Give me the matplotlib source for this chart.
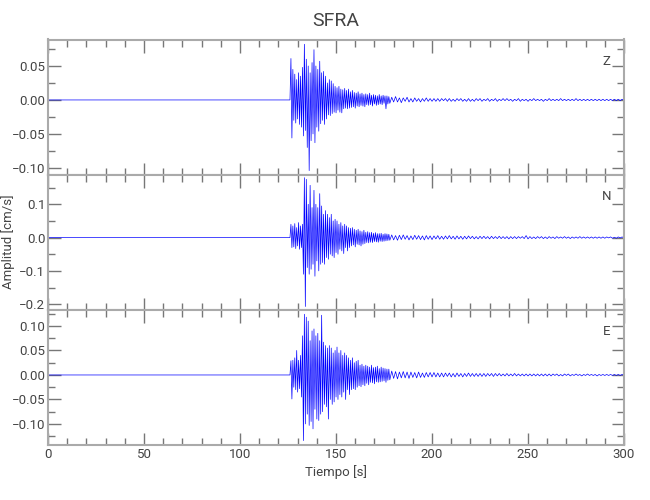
import numpy as np
import matplotlib.pyplot as plt
from matplotlib.ticker import MultipleLocator

plt.rcParams['font.family'] = ['Roboto', 'DejaVu Sans']

# ---------- DATA ----------
station = 'SFRA'
components = ['Z', 'N', 'E']

# quiet part before the arrival (s)
t_pre = [0.0, 126.0]
pre_z = [0.0, 0.0]
pre_n = [0.0, 0.0]
pre_e = [0.0, 0.0]

# strong motion, successive peaks/troughs every 0.5 s starting at 126 s
t_strong0, dt_strong = 126.0, 0.5
strong_z = [0.0, 0.061, -0.056, 0.045, -0.030, 0.038, -0.034, 0.030, -0.028, 0.040,
            -0.036, 0.035, -0.040, 0.048, -0.053, 0.082, -0.045, 0.060, -0.070, 0.050,
            -0.104, 0.040, -0.060, 0.055, -0.050, 0.074, -0.063, 0.050, -0.040, 0.045,
            -0.046, 0.057, -0.035, 0.040, -0.030, 0.042, -0.036, 0.035, -0.028, 0.025,
            -0.022, 0.030, -0.023, 0.028, -0.020, 0.024, -0.018, 0.020, -0.019, 0.018,
            -0.015, 0.020, -0.018, 0.016, -0.019, 0.015, -0.013, 0.017, -0.012, 0.014,
            -0.013, 0.016, -0.012, 0.012, -0.011, 0.014, -0.010, 0.011, -0.012, 0.010,
            -0.009, 0.012, -0.010, 0.009, -0.008, 0.010, -0.009, 0.008, -0.010, 0.009,
            -0.007, 0.008, -0.008, 0.010, -0.007, 0.007, -0.009, 0.008, -0.006, 0.007,
            -0.008, 0.006, -0.007, 0.008, -0.006, 0.006, -0.007, 0.007, -0.005, 0.006,
            -0.013, 0.006, -0.006, 0.005, -0.005]
strong_n = [0.0, 0.040, -0.030, 0.035, -0.028, 0.042, -0.033, 0.030, -0.025, 0.045,
            -0.035, 0.035, -0.030, 0.040, -0.110, 0.180, -0.207, 0.175, -0.090, 0.100,
            -0.110, 0.157, -0.095, 0.090, -0.080, 0.142, -0.116, 0.100, -0.070, 0.090,
            -0.100, 0.132, -0.080, 0.095, -0.075, 0.070, -0.080, 0.081, -0.060, 0.070,
            -0.065, 0.060, -0.050, 0.070, -0.055, 0.050, -0.060, 0.055, -0.045, 0.050,
            -0.050, 0.040, -0.035, 0.045, -0.040, 0.035, -0.048, 0.040, -0.030, 0.035,
            -0.040, 0.030, -0.030, 0.028, -0.025, 0.030, -0.022, 0.025, -0.028, 0.022,
            -0.020, 0.025, -0.022, 0.020, -0.025, 0.018, -0.020, 0.022, -0.018, 0.016,
            -0.015, 0.018, -0.016, 0.015, -0.014, 0.016, -0.015, 0.013, -0.012, 0.015,
            -0.013, 0.012, -0.014, 0.012, -0.011, 0.013, -0.012, 0.010, -0.011, 0.012,
            -0.010, 0.011, -0.009, 0.010, -0.008]
strong_e = [0.0, 0.029, -0.049, 0.030, -0.025, 0.035, -0.030, 0.050, -0.035, 0.030,
            -0.028, 0.040, -0.045, 0.080, -0.134, 0.124, -0.100, 0.118, -0.080, 0.110,
            -0.103, 0.070, -0.095, 0.090, -0.110, 0.094, -0.070, 0.080, -0.090, 0.085,
            -0.093, 0.070, -0.080, 0.122, -0.075, 0.067, -0.060, 0.060, -0.065, 0.055,
            -0.090, 0.060, -0.050, 0.055, -0.060, 0.045, -0.055, 0.050, -0.045, 0.057,
            -0.050, 0.045, -0.040, 0.050, -0.045, 0.040, -0.035, 0.045, -0.050, 0.040,
            -0.030, 0.035, -0.040, 0.030, -0.030, 0.035, -0.028, 0.025, -0.030, 0.028,
            -0.025, 0.030, -0.022, 0.020, -0.024, 0.022, -0.020, 0.018, -0.022, 0.020,
            -0.017, 0.018, -0.020, 0.016, -0.015, 0.020, -0.016, 0.015, -0.018, 0.016,
            -0.014, 0.018, -0.015, 0.013, -0.014, 0.016, -0.013, 0.014, -0.012, 0.013,
            -0.015, 0.012, -0.011, 0.012, -0.010]

# coda, successive peaks/troughs every 1 s starting at 179 s
t_coda0, dt_coda = 179.0, 1.0
coda_z = [0.004, -0.003, 0.005, -0.003, 0.003, -0.004, 0.003, -0.002, 0.004, -0.003,
          0.002, -0.003, 0.003, -0.002, 0.002, -0.003, 0.002, -0.002, 0.003, -0.002,
          0.002, -0.002, 0.002, -0.002, 0.002, -0.002, 0.002, -0.001, 0.002, -0.002,
          0.002, -0.002, 0.001, -0.002, 0.002, -0.001, 0.002, -0.002, 0.001, -0.002,
          0.002, -0.002, 0.001, -0.002, 0.002, -0.001, 0.002, -0.002, 0.001, -0.001,
          0.002, -0.002, 0.001, -0.001, 0.002, -0.002, 0.001, -0.001, 0.002, -0.001,
          0.002, -0.001, 0.001, -0.002, 0.001, -0.001, 0.002, -0.002, 0.001, -0.001,
          0.001, -0.002, 0.001, -0.001, 0.002, -0.001, 0.001, -0.001, 0.001, -0.002,
          0.001, -0.001, 0.002, -0.001, 0.001, -0.001, 0.001, -0.001, 0.002, -0.001,
          0.001, -0.001, 0.001, -0.001, 0.001, -0.001, 0.002, -0.001, 0.001, -0.001,
          0.001, -0.001, 0.001, -0.001, 0.001, -0.001, 0.001, -0.001, 0.001, -0.001,
          0.001, -0.001, 0.001, -0.001, 0.001, -0.001, 0.001, -0.001, 0.001, -0.001,
          0.001, -0.001]
coda_n = [0.008, -0.007, 0.006, -0.008, 0.007, -0.006, 0.008, -0.005, 0.006, -0.007,
          0.005, -0.006, 0.007, -0.005, 0.006, -0.006, 0.005, -0.007, 0.006, -0.005,
          0.005, -0.006, 0.005, -0.004, 0.006, -0.005, 0.004, -0.005, 0.005, -0.004,
          0.006, -0.004, 0.004, -0.005, 0.005, -0.004, 0.004, -0.005, 0.004, -0.004,
          0.005, -0.003, 0.004, -0.004, 0.003, -0.004, 0.004, -0.003, 0.004, -0.003,
          0.003, -0.004, 0.004, -0.003, 0.003, -0.003, 0.004, -0.003, 0.003, -0.003,
          0.003, -0.004, 0.003, -0.003, 0.003, -0.003, 0.003, -0.002, 0.003, -0.003,
          0.006, -0.004, 0.003, -0.003, 0.002, -0.003, 0.003, -0.002, 0.003, -0.003,
          0.002, -0.003, 0.003, -0.002, 0.002, -0.003, 0.003, -0.002, 0.002, -0.002,
          0.003, -0.002, 0.002, -0.003, 0.002, -0.002, 0.002, -0.002, 0.003, -0.002,
          0.002, -0.002, 0.002, -0.002, 0.002, -0.002, 0.002, -0.002, 0.002, -0.002,
          0.002, -0.002, 0.002, -0.001, 0.002, -0.002, 0.001, -0.002, 0.002, -0.001,
          0.002, -0.001]
coda_e = [0.008, -0.007, 0.007, -0.008, 0.006, -0.006, 0.007, -0.006, 0.006, -0.007,
          0.006, -0.005, 0.005, -0.006, 0.006, -0.005, 0.004, -0.005, 0.005, -0.004,
          0.005, -0.004, 0.005, -0.004, 0.004, -0.004, 0.004, -0.004, 0.004, -0.003,
          0.004, -0.004, 0.003, -0.004, 0.004, -0.003, 0.003, -0.004, 0.003, -0.003,
          0.004, -0.003, 0.003, -0.003, 0.003, -0.003, 0.003, -0.003, 0.003, -0.003,
          0.003, -0.002, 0.003, -0.003, 0.003, -0.002, 0.003, -0.002, 0.002, -0.002,
          0.003, -0.002, 0.002, -0.002, 0.003, -0.002, 0.002, -0.002, 0.002, -0.002,
          0.002, -0.002, 0.002, -0.002, 0.002, -0.002, 0.002, -0.002, 0.002, -0.002,
          0.002, -0.002, 0.002, -0.002, 0.002, -0.001, 0.002, -0.002, 0.001, -0.002,
          0.002, -0.001, 0.002, -0.002, 0.001, -0.001, 0.002, -0.001, 0.001, -0.002,
          0.001, -0.001, 0.002, -0.001, 0.001, -0.001, 0.001, -0.002, 0.001, -0.001,
          0.001, -0.001, 0.001, -0.001, 0.001, -0.001, 0.001, -0.001, 0.001, -0.001,
          0.001, -0.001]

# axis ranges / tick steps per panel
ylims = [(-0.110, 0.089), (-0.217, 0.189), (-0.143, 0.133)]
ymajor = [0.05, 0.1, 0.05]
ymin_step = [0.025, 0.05, 0.025]
ylabel_fmt = ['{:.2f}', '{:.1f}', '{:.2f}']


def trace(pre, strong, coda):
    """Join the three parts of one component into time / amplitude arrays."""
    t_s = t_strong0 + dt_strong * np.arange(len(strong))
    t_c = t_coda0 + dt_coda * np.arange(len(coda))
    t = np.concatenate([t_pre, t_s, t_c])
    a = np.concatenate([pre, strong, coda])
    return t, a


traces = [trace(pre_z, strong_z, coda_z),
          trace(pre_n, strong_n, coda_n),
          trace(pre_e, strong_e, coda_e)]

# ---------- PLOT ----------
txt = '#444444'
spine_c = '#aaaaaa'
tick_c = '#777777'

fig, axes = plt.subplots(3, 1, figsize=(6.5, 5), dpi=100, sharex=True)
fig.subplots_adjust(left=0.074, right=0.96, top=0.921, bottom=0.11, hspace=0)

for i, ax in enumerate(axes):
    t, a = traces[i]
    ax.plot(t, a, color='#0000ff', linewidth=0.5)
    ax.set_xlim(0, 300)
    ax.set_ylim(*ylims[i])
    ax.xaxis.set_major_locator(MultipleLocator(50))
    ax.xaxis.set_minor_locator(MultipleLocator(10))
    ax.yaxis.set_major_locator(MultipleLocator(ymajor[i]))
    ax.yaxis.set_minor_locator(MultipleLocator(ymin_step[i]))
    fmt = ylabel_fmt[i]
    ax.yaxis.set_major_formatter(plt.FuncFormatter(lambda v, p, f=fmt: f.format(v).replace('-', '\u2212')))
    ax.tick_params(which='both', direction='in', top=True, right=True,
                   color=tick_c, labelcolor=txt, labelsize=9.5, width=1, pad=2)
    ax.tick_params(which='major', length=9)
    ax.tick_params(which='minor', length=5)
    for s in ax.spines.values():
        s.set_color(spine_c)
        s.set_linewidth(1.5)
    ax.text(0.969, 0.84, components[i], transform=ax.transAxes, ha='center',
            va='center', fontsize=9.5, color=txt)

axes[-1].set_xlabel('Tiempo [s]', fontsize=9.5, color=txt, labelpad=3)
fig.text(0.013, 0.516, 'Amplitud [cm/s]', rotation=90, ha='center', va='center',
         fontsize=9.5, color=txt)
fig.text(0.517, 0.958, station, ha='center', va='center', fontsize=14, color=txt)

plt.savefig('out.png', dpi=100)
